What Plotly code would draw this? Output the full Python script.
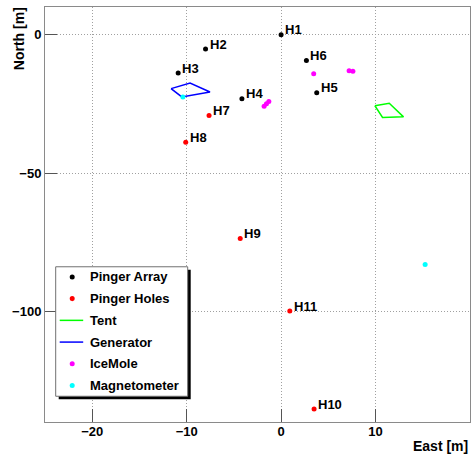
import plotly.graph_objects as go

# Pinger array positions (East, North) in metres
array_names = ["H1", "H2", "H3", "H4", "H5", "H6"]
array_east = [0.0, -8.0, -10.9, -4.15, 3.77, 2.68]
array_north = [0.0, -5.2, -13.9, -23.2, -21.0, -9.3]

# Pinger holes
hole_names = ["H7", "H8", "H9", "H10", "H11"]
hole_east = [-7.63, -10.1, -4.33, 3.49, 0.92]
hole_north = [-29.2, -38.9, -73.7, -135.3, -99.9]

# Tent outline (closed polygon)
tent_east = [9.93, 11.45, 12.96, 10.74, 9.93]
tent_north = [-25.7, -24.8, -29.7, -29.9, -25.7]

# Generator outline (closed polygon)
gen_east = [-11.65, -9.64, -7.53, -10.52, -11.65]
gen_north = [-19.5, -17.5, -20.7, -22.5, -19.5]

# IceMole positions
icemole_east = [3.45, 7.2, 7.6, -1.8, -1.55, -1.3]
icemole_north = [-14.1, -13.0, -13.2, -25.9, -25.0, -24.2]

# Magnetometer positions
mag_east = [-10.4, 15.25]
mag_north = [-22.5, -83.1]

x_ticks = [-20, -10, 0, 10, 20]
y_ticks = [-100, -50, 0]

FONT = "Liberation Sans, Arial, Helvetica, sans-serif"
MS = 5

W, H = 476, 454
ML, MR, MT, MB = 45.3, 5.7, 7.3, 32.3
PW, PH = W - ML - MR, H - MT - MB


def px_x(px):
    return (px - ML) / PW


def px_y(py):
    return (H - MB - py) / PH


series = [
    ("Pinger Array", "black", "marker", array_east, array_north),
    ("Pinger Holes", "#ff0000", "marker", hole_east, hole_north),
    ("Tent", "#00ff00", "line", tent_east, tent_north),
    ("Generator", "#0000ff", "line", gen_east, gen_north),
    ("IceMole", "#ff00ff", "marker", icemole_east, icemole_north),
    ("Magnetometer", "#00ffff", "marker", mag_east, mag_north),
]

fig = go.Figure()
for name, color, kind, xs, ys in series:
    if kind == "marker":
        fig.add_trace(go.Scatter(x=xs, y=ys, mode="markers", name=name,
                                 marker=dict(color=color, size=MS)))
    else:
        fig.add_trace(go.Scatter(x=xs, y=ys, mode="lines", name=name,
                                 line=dict(color=color, width=1.5)))

# Point labels
for names, xs, ys in ((array_names, array_east, array_north), (hole_names, hole_east, hole_north)):
    for n, x, y in zip(names, xs, ys):
        fig.add_annotation(x=x, y=y, text=n, showarrow=False, xanchor="left", yanchor="middle",
                           xshift=2, yshift=5,
                           font=dict(family=FONT, size=13, color="black", weight="bold"))

# Axis titles placed at the axis ends
fig.add_annotation(xref="paper", yref="paper", x=1.0, y=-0.058, text="East [m]", showarrow=False,
                   xanchor="right", yanchor="middle",
                   font=dict(family=FONT, size=14, color="black", weight="bold"))
fig.add_annotation(xref="paper", yref="paper", x=-0.062, y=0.924, text="North [m]", showarrow=False,
                   textangle=-90, xanchor="center", yanchor="middle",
                   font=dict(family=FONT, size=14, color="black", weight="bold"))

# Legend box with drop shadow (pixel geometry)
box_l, box_t, box_r, box_b = 56, 266.7, 188, 396
shadow = 3
fig.add_shape(type="rect", xref="paper", yref="paper",
              x0=px_x(box_l + shadow), x1=px_x(box_r + shadow),
              y0=px_y(box_b + shadow), y1=px_y(box_t + shadow),
              fillcolor="black", line=dict(width=0), layer="above")
fig.add_shape(type="rect", xref="paper", yref="paper",
              x0=px_x(box_l), x1=px_x(box_r), y0=px_y(box_b), y1=px_y(box_t),
              fillcolor="white", line=dict(color="#707070", width=1), layer="above")

row0, row_step = 276.8, 21.7
sym_x, line_x0, line_x1, text_x = 72.5, 60, 83.5, 88.5
for i, (name, color, kind, _, _) in enumerate(series):
    cy = row0 + i * row_step
    if kind == "marker":
        r = MS / 2.0
        fig.add_shape(type="circle", xref="paper", yref="paper",
                      x0=px_x(sym_x - r), x1=px_x(sym_x + r),
                      y0=px_y(cy + r), y1=px_y(cy - r),
                      fillcolor=color, line=dict(width=0), layer="above")
    else:
        fig.add_shape(type="line", xref="paper", yref="paper",
                      x0=px_x(line_x0), x1=px_x(line_x1), y0=px_y(cy), y1=px_y(cy),
                      line=dict(color=color, width=1.5), layer="above")
    fig.add_annotation(xref="paper", yref="paper", x=px_x(text_x), y=px_y(cy), text=name,
                       showarrow=False, xanchor="left", yanchor="middle",
                       font=dict(family=FONT, size=13, color="black", weight="bold"))

axis_common = dict(showline=True, mirror=True, linecolor="#8a8a8a", linewidth=1,
                   showgrid=True, gridcolor="#a0a0a0", griddash="1px,2px", gridwidth=1,
                   zeroline=False, ticks="inside", tickcolor="#555555", tickwidth=1,
                   tickfont=dict(family=FONT, size=13, color="black", weight="bold"))

fig.update_layout(
    width=W, height=H,
    margin=dict(l=ML, r=MR, t=MT, b=MB),
    paper_bgcolor="white", plot_bgcolor="white",
    showlegend=False,
    xaxis=dict(range=[-25, 20], tickvals=x_ticks, ticklen=13, ticklabelstandoff=-3, **axis_common),
    yaxis=dict(range=[-140, 10], tickvals=y_ticks, ticklen=12, **axis_common),
)

fig.write_html("out.html")
